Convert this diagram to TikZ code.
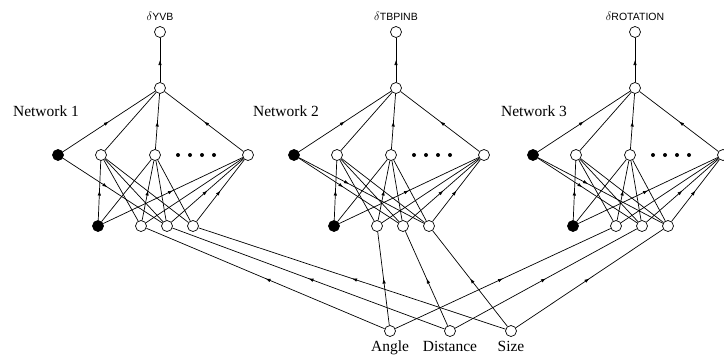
\documentclass[tikz,border=0pt]{standalone}
\usepackage{fontspec}
\setmainfont{Liberation Serif}
\newfontfamily\capsfont{Liberation Sans}
\usetikzlibrary{arrows.meta,decorations.markings}

\begin{document}
\begin{tikzpicture}[x=1pt, y=-1pt, line width=0.7pt,
  unit/.style={circle, draw, fill=white, inner sep=0pt, minimum size=11pt},
  bias/.style={circle, draw, fill=black, inner sep=0pt, minimum size=11pt},
  tag/.style={font=\fontsize{15.5}{18}\selectfont},
  plain/.style={},
  mid/.style={postaction={decorate, decoration={markings, mark=at position #1 with {\arrow{Latex[length=5pt,width=3.5pt]}}}}},
  mid/.default=0.5]
\useasboundingbox (0,0) rectangle (724,359);

% shared inputs
\node[unit] (angle) at (390,331) {};
\node[unit] (distance) at (450,331) {};
\node[unit] (size) at (511,331) {};
\node[tag, anchor=base] at (390,351) {Angle};
\node[tag, anchor=base] at (450,351) {Distance};
\node[tag, anchor=base] at (511,351) {Size};

% one network per output
\foreach \n/\dx/\lx/\dn in {1/0/46/YVB, 2/236/50/TBPINB, 3/475/59/ROTATION} {
  \begin{scope}[xshift=\dx]
    \node[unit] (o\n) at (160,32) {};
    \node[unit] (h\n) at (160,88) {};
    \node[bias] (c\n) at (58,155) {};
    \node[unit] (u\n-1) at (101,155) {};
    \node[unit] (u\n-2) at (155,155) {};
    \node[unit] (u\n-3) at (248,155) {};
    \node[bias] (d\n) at (98,226) {};
    \node[unit] (s\n-1) at (141,226) {};
    \node[unit] (s\n-2) at (167,226) {};
    \node[unit] (s\n-3) at (193,226) {};
    \node[anchor=base, inner sep=0pt] (t\n) at (160,20)
      {\fontsize{13}{15}\selectfont$\delta$\capsfont\fontsize{10.5}{12}\selectfont\dn};
    \node[tag] (n\n) at (\lx,111) {Network \n};
    \foreach \x in {178,190,202,214} \fill (\x,155) circle (2pt);
    % output layer
    \draw[mid] (h\n) -- (o\n);
    \draw[mid] (c\n) -- (h\n);
    \draw (u\n-1) -- (h\n);
    \draw[mid] (u\n-2) -- (h\n);
    \draw[mid] (u\n-3) -- (h\n);
    % hidden layer
    \foreach \a/\b/\st in {d\n/1/mid, d\n/2/plain, d\n/3/mid,
        s\n-1/1/plain, s\n-1/2/mid, s\n-1/3/plain,
        s\n-2/1/plain, s\n-2/2/plain, s\n-2/3/mid,
        s\n-3/1/plain, s\n-3/2/plain, s\n-3/3/mid}
      \draw[\st] (\a) -- (u\n-\b);
    \draw[mid=0.45] (c\n) -- (s\n-2);
    \ifnum\n>1 \draw[mid=0.4] (c\n) -- (s\n-3); \fi
  \end{scope}
  \draw[mid] (angle) -- (s\n-1);
  \draw[mid] (distance) -- (s\n-2);
  \draw[mid] (size) -- (s\n-3);
}
\end{tikzpicture}
\end{document}
